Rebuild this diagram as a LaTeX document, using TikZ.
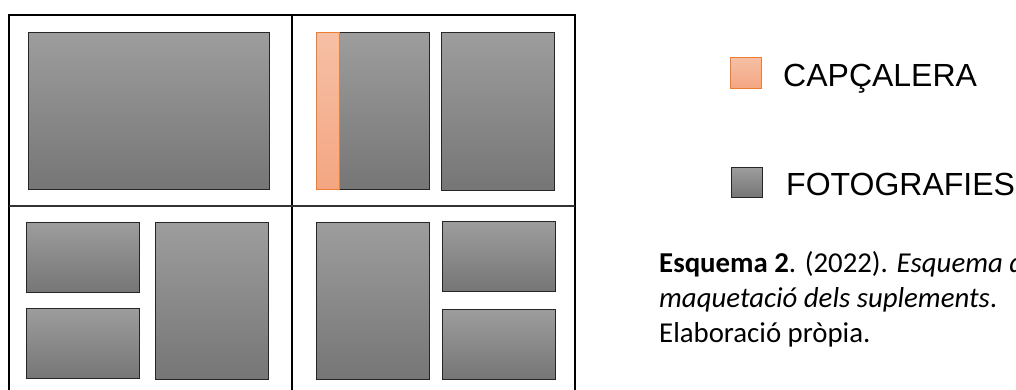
\documentclass[tikz,border=0pt]{standalone}
\usepackage{fontspec}
\setmainfont{Liberation Sans}
\newfontfamily\capfont{Carlito}
\definecolor{phtop}{RGB}{157,157,157}
\definecolor{phbot}{RGB}{118,118,118}
\definecolor{ortop}{RGB}{246,192,166}
\definecolor{orbot}{RGB}{244,166,130}
\definecolor{oredge}{RGB}{237,125,49}
\tikzset{
  photo/.style={draw=black!85, line width=1pt, top color=phtop, bottom color=phbot},
  capbox/.style={draw=oredge, line width=1pt, top color=ortop, bottom color=orbot},
  frameline/.style={draw=black, line width=2pt},
  divline/.style={draw=black!80, line width=1.5pt},
  legtext/.style={anchor=base west, inner sep=0pt, font=\fontsize{32}{38}\selectfont},
  captext/.style={anchor=base west, inner sep=0pt, font=\capfont\fontsize{28.8}{35}\selectfont}
}
\begin{document}
\begin{tikzpicture}[x=1pt,y=-1pt]
\useasboundingbox (0,0) rectangle (1016,389);
\clip (0,0) rectangle (1016,389);
\fill[white] (0,0) rectangle (1016,389);
% frame
\draw[frameline] (9,395) -- (9,15) -- (575,15) -- (575,395);
\draw[frameline] (292,15) -- (292,395);
\draw[divline] (9,206) -- (575,206);
% top-left
\path[photo] (28,32) rectangle (269,189);
% top-right
\path[photo] (316,32) rectangle (429,189);
\path[capbox] (316,32) rectangle (339,189);
\path[photo] (441,32.5) rectangle (554,190);
% bottom-left
\path[photo] (26.5,222) rectangle (139.5,292);
\path[photo] (26.5,308) rectangle (139.5,378);
\path[photo] (155,222) rectangle (268,379);
% bottom-right
\path[photo] (316,222) rectangle (429,379);
\path[photo] (442,221) rectangle (555,291);
\path[photo] (442,309) rectangle (555,379);
% legend
\path[capbox] (730,57) rectangle (761,88);
\node[legtext] (capl) at (783,86) {CAPÇALERA};
\path[photo] (731,167) rectangle (762,197);
\node[legtext] (fotl) at (786,195) {FOTOGRAFIES};
% caption
\node[captext] (c1) at (659,272) {\textbf{Esquema 2}. (2022). \textit{Esquema de}};
\node[captext] (c2) at (659,307) {\textit{maquetació dels suplements}.};
\node[captext] (c3) at (659,342) {Elaboració pròpia.};
\end{tikzpicture}
\end{document}
